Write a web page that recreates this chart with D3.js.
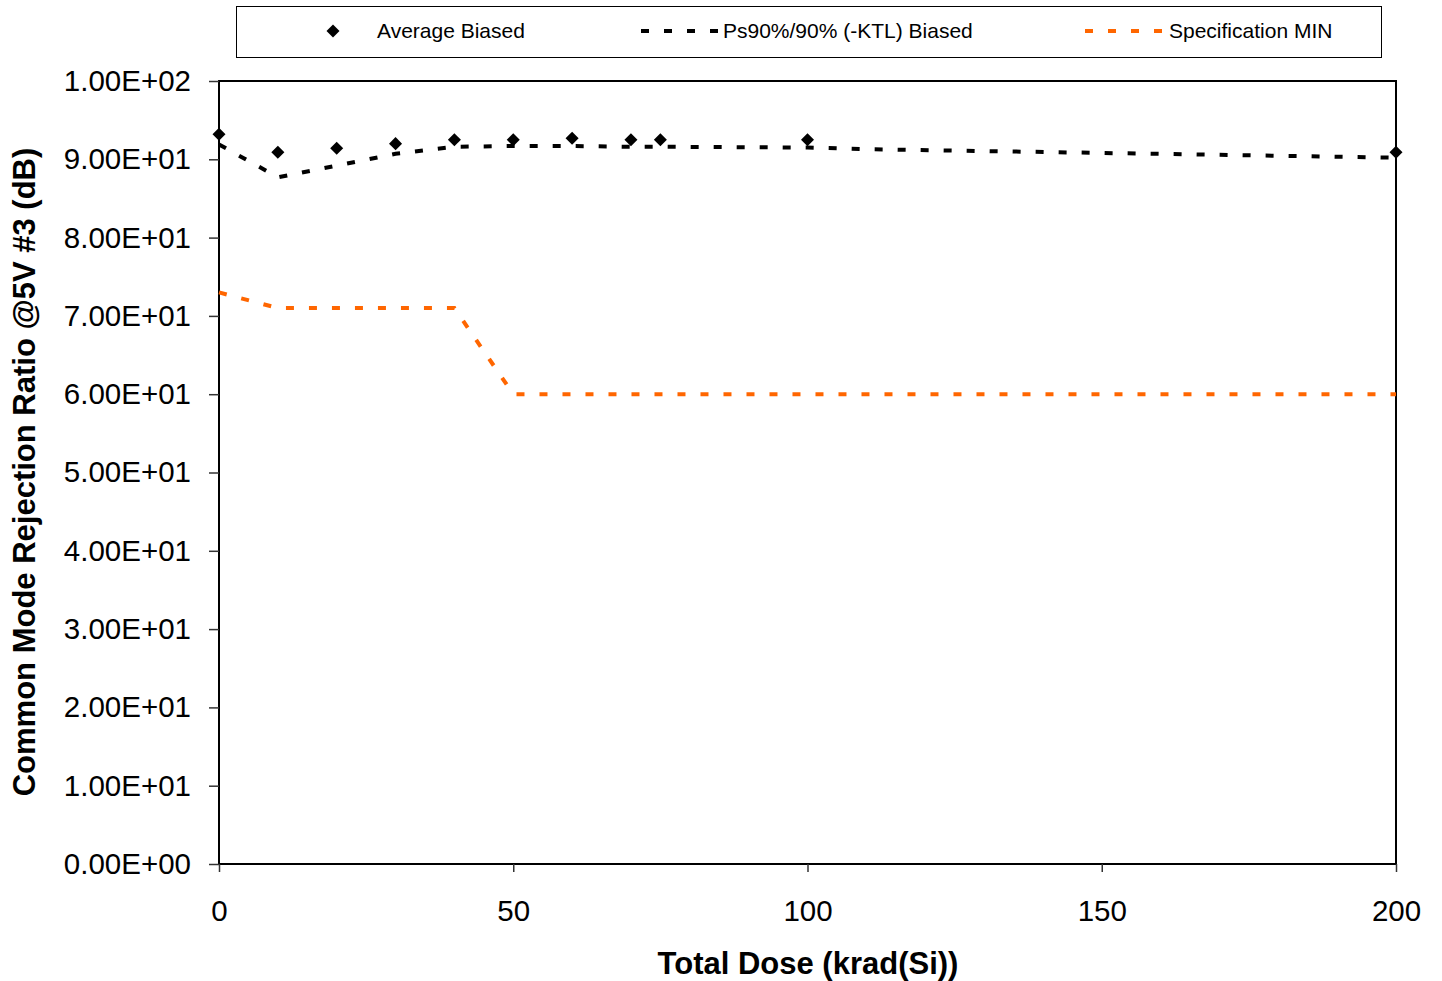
<!DOCTYPE html>
<html><head><meta charset="utf-8">
<script src="https://cdn.jsdelivr.net/npm/d3@7"></script>
<style>body{margin:0;background:#fff;} svg{display:block;font-family:"Liberation Sans",Arial,sans-serif;}</style>
</head><body>
<script>
const avgDose = [0,10,20,30,40,50,60,70,75,100,200];
const avgValues = [93.2,90.9,91.4,92.0,92.5,92.5,92.7,92.5,92.5,92.5,90.9];
const lineDose = [0,10,20,30,40,50,60,70,75,100,110,200];
const ktlValues = [91.9,87.7,89.2,90.7,91.6,91.7,91.7,91.6,91.6,91.5,91.3,90.2];
const specValues = [73,71,71,71,71,60,60,60,60,60,60,60];
const yTicks = [0,10,20,30,40,50,60,70,80,90,100];
const xTicks = [0,50,100,150,200];
const legendLabels = ["Average Biased","Ps90%/90% (-KTL) Biased","Specification MIN"];

const W=1442,H=981;
const m={left:219,right:1396,top:81,bottom:864};
const svg=d3.select("body").append("svg").attr("width",W).attr("height",H);
const x=d3.scaleLinear().domain([0,200]).range([m.left,m.right]);
const y=d3.scaleLinear().domain([0,100]).range([m.bottom,m.top]);

svg.append("rect").attr("x",m.left).attr("y",m.top).attr("width",m.right-m.left).attr("height",m.bottom-m.top)
  .attr("fill","none").attr("stroke","#000").attr("stroke-width",2);

const fmt=v=>v.toExponential(2).toUpperCase().replace(/E([+-])(\d)$/,"E$10$2");
const ya=svg.append("g").attr("transform",`translate(${m.left},0)`)
  .call(d3.axisLeft(y).tickValues(yTicks).tickFormat(fmt).tickSize(10).tickPadding(18));
ya.select(".domain").remove();
ya.selectAll("line").attr("stroke","#333").attr("stroke-width",1.5);
ya.selectAll("text").attr("font-size",29.5).attr("fill","#000").attr("font-family","Liberation Sans, Arial, sans-serif");

const xa=svg.append("g").attr("transform",`translate(0,${m.bottom})`)
  .call(d3.axisBottom(x).tickValues(xTicks).tickSize(8).tickPadding(28));
xa.select(".domain").remove();
xa.selectAll("line").attr("stroke","#333").attr("stroke-width",1.5);
xa.selectAll("text").attr("font-size",29.5).attr("fill","#000").attr("font-family","Liberation Sans, Arial, sans-serif");

svg.append("text").attr("x",808).attr("y",974).attr("text-anchor","middle")
  .attr("font-size",31).attr("font-weight","bold").text("Total Dose (krad(Si))");
svg.append("text").attr("transform",`translate(35,472) rotate(-90)`).attr("text-anchor","middle")
  .attr("font-size",31).attr("font-weight","bold").text("Common Mode Rejection Ratio @5V #3 (dB)");

const line=d3.line().x(d=>x(d[0])).y(d=>y(d[1]));
svg.append("path").datum(lineDose.map((d,i)=>[d,specValues[i]])).attr("d",line)
  .attr("fill","none").attr("stroke","#FF6600").attr("stroke-width",4).attr("stroke-dasharray","8,15");
svg.append("path").datum(lineDose.map((d,i)=>[d,ktlValues[i]])).attr("d",line)
  .attr("fill","none").attr("stroke","#000").attr("stroke-width",4).attr("stroke-dasharray","8,15");

const diamond=d3.symbol().type(d3.symbolSquare).size(85);
svg.selectAll("path.pt").data(avgDose.map((d,i)=>[d,avgValues[i]])).enter().append("path").attr("class","pt")
  .attr("d",diamond).attr("transform",d=>`translate(${x(d[0])},${y(d[1])}) rotate(45)`).attr("fill","#000");

const lg=svg.append("g");
lg.append("rect").attr("x",236.5).attr("y",6.5).attr("width",1145).attr("height",51).attr("fill","#fff").attr("stroke","#000").attr("stroke-width",1);
lg.append("path").attr("d",diamond).attr("transform","translate(333,31) rotate(45)").attr("fill","#000");
lg.append("line").attr("x1",641).attr("x2",722).attr("y1",31).attr("y2",31).attr("stroke","#000").attr("stroke-width",4).attr("stroke-dasharray","8,15");
lg.append("line").attr("x1",1085).attr("x2",1166).attr("y1",31).attr("y2",31).attr("stroke","#FF6600").attr("stroke-width",4).attr("stroke-dasharray","8,15");
const lx=[377,723,1169];
legendLabels.forEach((t,i)=>lg.append("text").attr("x",lx[i]).attr("y",38).attr("font-size",21).text(t));
</script>
</body></html>
